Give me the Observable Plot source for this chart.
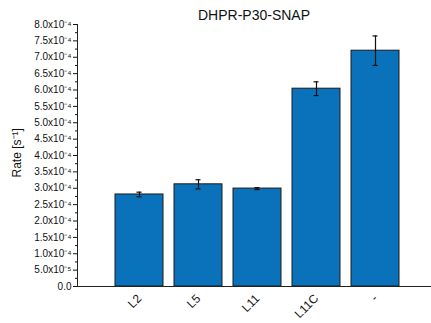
<!DOCTYPE html>
<html>
<head>
<meta charset="utf-8">
<script src="https://cdn.jsdelivr.net/npm/d3@7"></script>
<script src="https://cdn.jsdelivr.net/npm/@observablehq/plot@0.6"></script>
<style>
  html, body { margin: 0; padding: 0; background: #fff; }
  svg { font-family: "Liberation Sans", Arial, sans-serif; }
</style>
</head>
<body>
<div id="chart"></div>
<script>
const categories = ["L2", "L5", "L11", "L11C", "-"];
const rates = [2.81e-4, 3.12e-4, 2.99e-4, 6.04e-4, 7.20e-4];
const errors = [0.07e-4, 0.14e-4, 0.03e-4, 0.21e-4, 0.45e-4];
const majorTicks = d3.range(0, 17).map(i => i * 0.5e-4);
const minorTicks = d3.range(0, 16).map(i => (i + 0.5) * 0.5e-4);
const title = "DHPR-P30-SNAP";
const yLabel = "Rate [s\u207B\u00B9]";

const data = categories.map((c, i) => ({cat: c, rate: rates[i], err: errors[i]}));

const sup = {"-": "\u207B", "0": "\u2070", "1": "\u00B9", "2": "\u00B2", "3": "\u00B3", "4": "\u2074", "5": "\u2075", "6": "\u2076", "7": "\u2077", "8": "\u2078", "9": "\u2079"};
function fmt(v) {
  if (Math.abs(v) < 1e-12) return "0.0";
  const e = Math.floor(Math.log10(v) + 1e-9);
  const m = v / Math.pow(10, e);
  return m.toFixed(1) + "x10" + String(e).split("").map(ch => sup[ch]).join("");
}

const chart = Plot.plot({
  width: 431,
  height: 323,
  marginLeft: 77,
  marginRight: 1,
  marginTop: 24,
  marginBottom: 37,
  style: {fontFamily: "Liberation Sans, Arial, sans-serif", fontSize: "10px", color: "#111"},
  x: {domain: categories, range: [77, 438], paddingInner: 0.183, paddingOuter: 0.6, label: null},
  y: {domain: [0, 8e-4], label: null},
  marks: [
    Plot.barY(data, {x: "cat", y: "rate", fill: "#0a72ba", stroke: "#1a1a1a", strokeWidth: 1}),
    Plot.ruleX(data, {x: "cat", y1: d => d.rate - d.err, y2: d => d.rate + d.err, stroke: "#111", strokeWidth: 1.2}),
    Plot.tickY(data, {x: "cat", y: d => d.rate + d.err, stroke: "#111", strokeWidth: 1.2, insetLeft: 21.5, insetRight: 21.5}),
    Plot.tickY(data, {x: "cat", y: d => d.rate - d.err, stroke: "#111", strokeWidth: 1.2, insetLeft: 21.5, insetRight: 21.5}),
    Plot.frame({anchor: "left", stroke: "#222", strokeWidth: 1}),
    Plot.frame({anchor: "bottom", stroke: "#222", strokeWidth: 1}),
    Plot.axisY({ticks: majorTicks, tickFormat: fmt, tickSize: 4, tickPadding: 2, fontSize: 10, label: null}),
    Plot.axisY({ticks: minorTicks, tickFormat: () => "", tickSize: 2, label: null}),
    Plot.axisX({tickSize: 0, tickRotate: -45, tickPadding: 10, fontSize: 12, label: null}),
    Plot.text([title], {frameAnchor: "top", dy: -14, fontSize: 14, fill: "#111"}),
    Plot.text([yLabel], {frameAnchor: "left", dx: -60, dy: 22, rotate: -90, fontSize: 12, fill: "#111"})
  ]
});
document.getElementById("chart").appendChild(chart);
</script>
</body>
</html>
